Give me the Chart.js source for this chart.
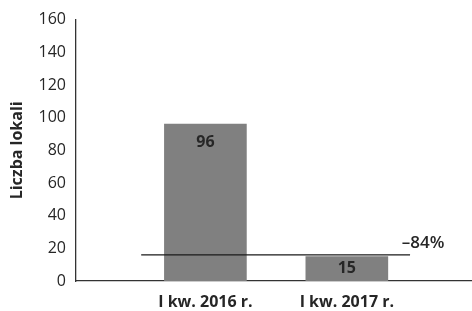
<!DOCTYPE html>
<html>
<head>
<meta charset="utf-8">
<script src="https://cdn.jsdelivr.net/npm/chart.js@4"></script>
<style>
  html, body { margin: 0; padding: 0; background: #fff; }
  #wrap { width: 472px; height: 311px; }
</style>
</head>
<body>
<div id="wrap"><canvas id="chart"></canvas></div>
<script>
const categories = ["I kw. 2016 r.", "I kw. 2017 r."];
const barValues = [96, 15];
const barPositions = [1, 2];
// change line: start/end positions on the x scale and its level
const changeLineX = [0.546, 2.447];
const changeLineY = [16, 16];
const changeLabel = "\u201384%";
const yTicks = [0, 20, 40, 60, 80, 100, 120, 140, 160];

const fontFamily = "'Open Sans', 'Noto Sans', sans-serif";

// draws values inside bars and the change label
const labelsPlugin = {
  id: "labels",
  afterDatasetsDraw(chart) {
    const ctx = chart.ctx;
    ctx.save();
    ctx.fillStyle = "#262626";
    ctx.textAlign = "center";
    ctx.textBaseline = "middle";
    ctx.font = "bold 16px " + fontFamily;
    const bars = chart.getDatasetMeta(0).data;
    bars.forEach((bar, i) => {
      const y = Math.min(bar.y + 18, (bar.y + bar.base) / 2);
      ctx.fillText(barValues[i], bar.x, y);
    });
    const pts = chart.getDatasetMeta(1).data;
    const last = pts[pts.length - 1];
    ctx.font = "600 17px " + fontFamily;
    ctx.fillText(changeLabel, last.x + 13, last.y - 12);
    ctx.restore();
  },
};

const ctx = document.getElementById("chart").getContext("2d");
new Chart(ctx, {
  data: {
    datasets: [
      {
        type: "bar",
        data: barPositions.map((x, i) => ({ x: x, y: barValues[i] })),
        backgroundColor: "#808080",
        barThickness: 82,
        order: 2,
      },
      {
        type: "line",
        data: changeLineX.map((x, i) => ({ x: x, y: changeLineY[i] })),
        borderColor: "#1a1a1a",
        borderWidth: 1.3,
        pointRadius: 0,
        fill: false,
        order: 1,
      },
    ],
  },
  options: {
    responsive: true,
    maintainAspectRatio: false,
    animation: false,
    layout: { padding: { top: 19, right: 0, left: 0, bottom: 0 } },
    plugins: {
      legend: { display: false },
      tooltip: { enabled: false },
    },
    scales: {
      x: {
        type: "linear",
        min: 0.085,
        max: 2.885,
        offset: false,
        grid: { display: false, drawTicks: false, offset: false },
        border: { display: true, color: "#333", width: 1.3 },
        afterBuildTicks: (s) => {
          s.ticks = barPositions.map((v) => ({ value: v }));
        },
        afterFit: (s) => {
          s.height = 30;
        },
        ticks: {
          padding: 12,
          color: "#262626",
          font: { family: fontFamily, size: 16, weight: "bold" },
          callback: (v) => categories[Math.round(v) - 1],
        },
      },
      y: {
        min: 0,
        max: 160,
        grid: { display: false, drawTicks: false },
        border: { display: true, color: "#333", width: 1.3 },
        afterBuildTicks: (s) => {
          s.ticks = yTicks.map((v) => ({ value: v }));
        },
        afterFit: (s) => {
          s.width = 76;
        },
        ticks: {
          padding: 10,
          color: "#262626",
          font: { family: fontFamily, size: 16 },
        },
        title: {
          display: true,
          text: "Liczba lokali",
          color: "#262626",
          padding: { top: 8, bottom: 0 },
          font: { family: fontFamily, size: 16, weight: "bold" },
        },
      },
    },
  },
  plugins: [labelsPlugin],
});
</script>
</body>
</html>
